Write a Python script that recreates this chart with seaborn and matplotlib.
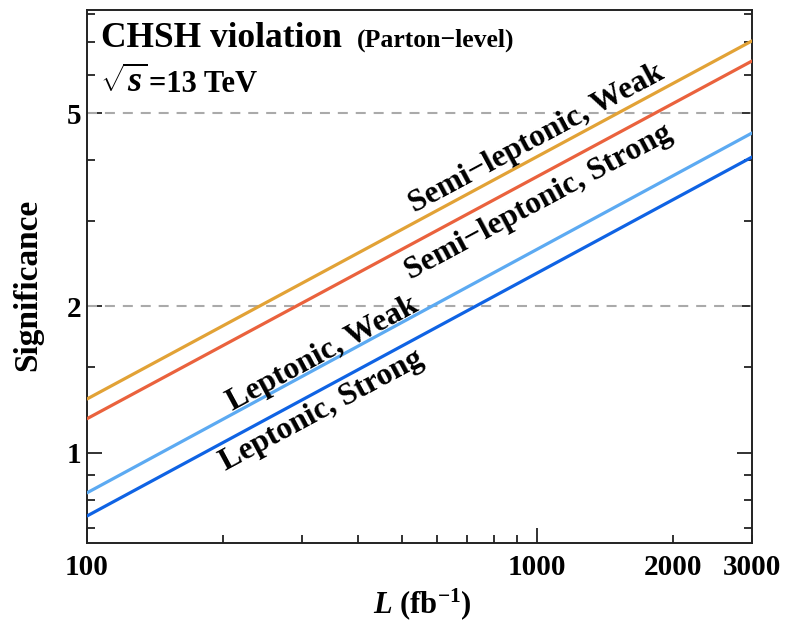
import numpy as np
import pandas as pd
import matplotlib
matplotlib.use("Agg")
import matplotlib.pyplot as plt
import seaborn as sns
from matplotlib.ticker import FixedLocator, FixedFormatter, NullFormatter

# ---- data ----
luminosity = [100, 3000]
semi_weak = [1.29, 7.04]
semi_strong = [1.175, 6.40]
lep_weak = [0.827, 4.55]
lep_strong = [0.741, 4.06]
series_names = ["Semi\u2212leptonic, Weak", "Semi\u2212leptonic, Strong",
                "Leptonic, Weak", "Leptonic, Strong"]
series_colors = ["#E2A236", "#EA623D", "#5CAAF2", "#0F63E4"]
threshold_levels = [2, 5]
x_tick_values = [100, 1000, 2000, 3000]
x_tick_labels = ["100", "1000", "2000", "3000"]
x_minor_values = [200, 300, 400, 500, 600, 700, 800, 900]
y_tick_values = [1, 2, 5]
y_tick_labels = ["1", "2", "5"]
y_minor_values = [0.7, 0.8, 0.9, 1.5, 3, 4, 6, 7, 8]
label_pos = [(995, 4.42), (1005, 3.28), (334, 1.60), (333, 1.22)]

sns.set_theme(style="white")
plt.rcParams["font.family"] = ["Liberation Serif", "DejaVu Serif"]
plt.rcParams["font.weight"] = "bold"
plt.rcParams["text.color"] = "black"
plt.rcParams["axes.labelcolor"] = "black"
plt.rcParams["xtick.color"] = "black"
plt.rcParams["ytick.color"] = "black"
plt.rcParams["mathtext.fontset"] = "custom"
plt.rcParams["mathtext.rm"] = "Liberation Serif:bold"
plt.rcParams["mathtext.it"] = "Liberation Serif:italic:bold"
plt.rcParams["mathtext.bf"] = "Liberation Serif:bold"

series_vals = [semi_weak, semi_strong, lep_weak, lep_strong]
df = pd.DataFrame({
    "L": np.concatenate([luminosity] * len(series_names)),
    "sig": np.concatenate(series_vals),
    "channel": np.repeat(series_names, len(luminosity)),
})

fig = plt.figure(figsize=(7.86, 6.27), dpi=100)
ax = fig.add_axes([87 / 786, 1 - 543 / 627, 665 / 786, 533 / 627])

for lvl in threshold_levels:
    ax.axhline(lvl, color="#AAAAAA", lw=1.5, ls=(0, (4.8, 3.8)), zorder=1)

sns.lineplot(data=df, x="L", y="sig", hue="channel", hue_order=series_names,
             palette=dict(zip(series_names, series_colors)), lw=2.3,
             legend=False, ax=ax, zorder=3)

ax.set_xscale("log")
ax.set_yscale("log")
ax.set_xlim(100, 3000)
ax.set_ylim(0.652, 8.15)

ax.xaxis.set_major_locator(FixedLocator(x_tick_values))
ax.xaxis.set_major_formatter(FixedFormatter(x_tick_labels))
ax.xaxis.set_minor_locator(FixedLocator(x_minor_values))
ax.xaxis.set_minor_formatter(NullFormatter())
ax.yaxis.set_major_locator(FixedLocator(y_tick_values))
ax.yaxis.set_major_formatter(FixedFormatter(y_tick_labels))
ax.yaxis.set_minor_locator(FixedLocator(y_minor_values))
ax.yaxis.set_minor_formatter(NullFormatter())

ax.tick_params(which="both", direction="in", bottom=True, left=True,
               top=False, right=True, labelright=False, labelleft=True,
               labelbottom=True, color="#222222", width=1.3,
               labelsize=21, labelcolor="black")
ax.tick_params(which="major", length=11)
ax.tick_params(which="minor", length=5.5)
ax.tick_params(axis="y", pad=4)
ax.tick_params(axis="x", pad=8)
for t in ax.xaxis.get_major_ticks()[2:]:
    t.tick1line.set_markersize(5.5)
for lab in ax.get_xticklabels() + ax.get_yticklabels():
    lab.set_fontweight("bold")

for s in ax.spines.values():
    s.set_color("#222222")
    s.set_linewidth(1.4)

ax.set_xlabel(r"$L$ (fb$^{-1}$)", fontsize=22, fontweight="bold")
ax.set_ylabel("Significance", fontsize=24, fontweight="bold")
ax.xaxis.set_label_coords(0.5045, -0.082)
ax.yaxis.set_label_coords(-0.066, 0.485)

# text labels along the lines
fig.canvas.draw()
p1 = ax.transData.transform((luminosity[0], semi_weak[0]))
p2 = ax.transData.transform((luminosity[1], semi_weak[1]))
angle = np.degrees(np.arctan2(p2[1] - p1[1], p2[0] - p1[0]))
for name, (lx, ly) in zip(series_names, label_pos):
    ax.text(lx, ly, name, rotation=angle, rotation_mode="anchor",
            ha="center", va="center", fontsize=22.8, fontweight="bold",
            color="black", zorder=4)

ax.text(0.021, 0.9306, "CHSH violation", transform=ax.transAxes,
        fontsize=25.5, fontweight="bold", va="baseline", ha="left")
ax.text(0.406, 0.9306, "(Parton\u2212level)", transform=ax.transAxes,
        fontsize=18.5, fontweight="bold", va="baseline", ha="left")
ax.text(0.019, 0.846, r"$\sqrt{s}$", transform=ax.transAxes,
        fontsize=26, fontweight="bold", va="baseline", ha="left")
ax.text(0.0935, 0.846, "=13 TeV", transform=ax.transAxes,
        fontsize=22, fontweight="bold", va="baseline", ha="left")

fig.savefig("out.png", dpi=100)
